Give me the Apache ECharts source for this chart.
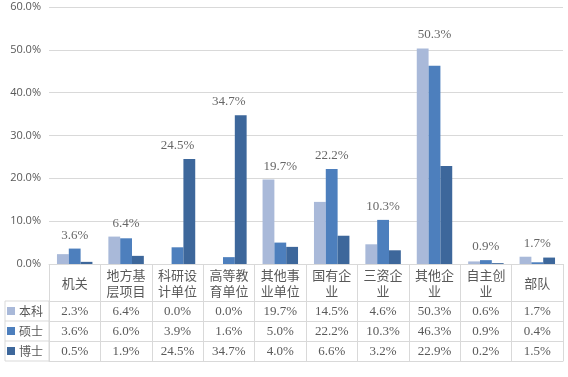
<!DOCTYPE html>
<html>
<head>
<meta charset="utf-8">
<script src="https://cdn.jsdelivr.net/npm/echarts@6/dist/echarts.min.js"></script>
<style>
  html, body { margin: 0; padding: 0; background: #fff; }
  #main { width: 568px; height: 377px; }
</style>
</head>
<body>
<div id="main"></div>
<script>
// 数据
var categories = ['机关', '地方基层项目', '科研设计单位', '高等教育单位', '其他事业单位', '国有企业', '三资企业', '其他企业', '自主创业', '部队']
var benke = [2.3, 6.4, 0.0, 0.0, 19.7, 14.5, 4.6, 50.3, 0.6, 1.7]
var shuoshi = [3.6, 6.0, 3.9, 1.6, 5.0, 22.2, 10.3, 46.3, 0.9, 0.4]
var boshi = [0.5, 1.9, 24.5, 34.7, 4.0, 6.6, 3.2, 22.9, 0.2, 1.5]
var seriesNames = ['本科', '硕士', '博士']
var yTicks = [0, 10, 20, 30, 40, 50, 60]

var colors = ['#a9b9d9', '#4d7fbd', '#3d679b']
var lineColor = '#d9d9d9'
var textColor = '#595959'
var serif = 'Liberation Serif'
var cjk = 'Noto Sans CJK SC'

// 每个类别最高值, 用于顶部标签
var maxVals = categories.map(function (c, i) {
  return Math.max(benke[i], shuoshi[i], boshi[i])
})

function pct (v) {
  return v.toFixed(1) + '%'
}

// 表格行: 用额外的类目轴画
function rowAxis (arr, offset) {
  return {
    type: 'category',
    data: categories,
    position: 'bottom',
    offset: offset,
    axisLine: { show: true, lineStyle: { color: lineColor } },
    axisTick: { show: false },
    axisLabel: {
      interval: 0,
      margin: 4,
      fontFamily: serif,
      fontSize: 13,
      color: textColor,
      formatter: function (v, i) {
        return pct(arr[i])
      }
    }
  }
}

var chart = echarts.init(document.getElementById('main'))
var option = {
  animation: false,
  color: colors,
  grid: { left: 49, right: 5, top: 7, bottom: 113, containLabel: false },
  legend: {
    data: seriesNames,
    orient: 'vertical',
    left: 7,
    top: 304,
    padding: 0,
    itemWidth: 8,
    itemHeight: 8,
    itemGap: 6,
    icon: 'rect',
    selectedMode: false,
    textStyle: { fontFamily: cjk, fontSize: 12, color: textColor, lineHeight: 14, padding: [0, 0, 0, -1] }
  },
  xAxis: [
    {
      type: 'category',
      data: categories,
      position: 'bottom',
      axisLine: { show: true, lineStyle: { color: lineColor } },
      axisTick: { show: true, length: 97, interval: 0, lineStyle: { color: lineColor } },
      axisLabel: {
        interval: 0,
        margin: 19,
        verticalAlign: 'middle',
        lineHeight: 16,
        fontFamily: cjk,
        fontSize: 13,
        color: textColor,
        formatter: function (v) {
          // 三字换行
          var s = []
          for (var i = 0; i < v.length; i += 3) s.push(v.substr(i, 3))
          return s.join('\n')
        }
      }
    },
    rowAxis(benke, 37),
    rowAxis(shuoshi, 57),
    rowAxis(boshi, 77),
    {
      type: 'category',
      data: categories,
      position: 'bottom',
      offset: 97,
      axisLine: { show: true, lineStyle: { color: lineColor } },
      axisTick: { show: false },
      axisLabel: { show: false }
    }
  ],
  yAxis: {
    type: 'value',
    min: yTicks[0],
    max: yTicks[yTicks.length - 1],
    interval: 10,
    axisLine: { show: false },
    axisTick: { show: false },
    axisLabel: {
      margin: 8,
      fontFamily: 'Open Sans',
      fontSize: 11,
      color: textColor,
      formatter: function (v) { return pct(v) }
    },
    splitLine: { lineStyle: { color: lineColor } }
  },
  // 左侧图例列的边框
  graphic: [
    { type: 'rect', shape: { x: 5, y: 301, width: 44, height: 60 }, style: { fill: 'none', stroke: lineColor, lineWidth: 1 }, silent: true },
    { type: 'line', shape: { x1: 5, y1: 321, x2: 49, y2: 321 }, style: { stroke: lineColor, lineWidth: 1 }, silent: true },
    { type: 'line', shape: { x1: 5, y1: 341, x2: 49, y2: 341 }, style: { stroke: lineColor, lineWidth: 1 }, silent: true }
  ],
  series: [
    { name: seriesNames[0], type: 'bar', data: benke, barGap: 0, barCategoryGap: '31%' },
    { name: seriesNames[1], type: 'bar', data: shuoshi, barGap: 0, barCategoryGap: '31%' },
    { name: seriesNames[2], type: 'bar', data: boshi, barGap: 0, barCategoryGap: '31%' },
    {
      name: 'max',
      type: 'scatter',
      data: maxVals,
      symbolSize: 0,
      silent: true,
      z: 5,
      label: {
        show: true,
        position: 'top',
        distance: 7,
        fontFamily: serif,
        fontSize: 13,
        color: '#404040',
        formatter: function (p) { return pct(p.value) }
      }
    }
  ]
}
chart.setOption(option)
</script>
</body>
</html>
